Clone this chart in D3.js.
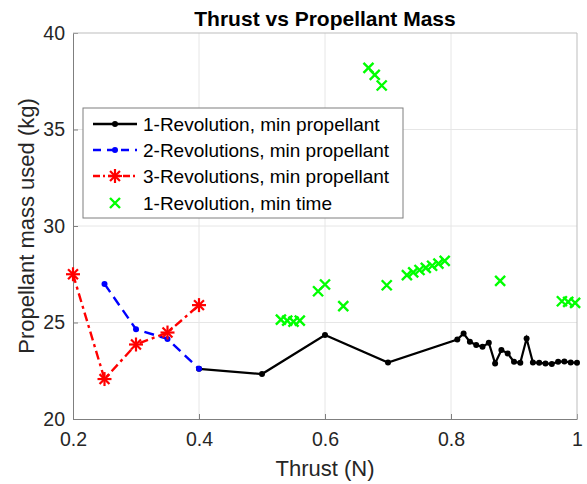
<!DOCTYPE html>
<html><head><meta charset="utf-8">
<script src="https://cdn.jsdelivr.net/npm/d3@7"></script>
<style>body{margin:0;background:#fff}</style>
</head><body><svg id="c" width="587" height="484"></svg>
<script>
const xTicks=[0.2,0.4,0.6,0.8,1.0];
const yTicks=[20,25,30,35,40];
const rev1X=[0.4,0.5,0.6,0.7,0.81,0.82,0.83,0.84,0.85,0.86,0.87,0.88,0.89,0.90,0.91,0.92,0.93,0.94,0.95,0.96,0.97,0.98,0.99,1.00];
const rev1Y=[22.6,22.33,24.35,22.93,24.12,24.43,24.0,23.83,23.74,23.95,22.88,23.57,23.4,22.96,22.91,24.17,22.93,22.91,22.88,22.85,22.97,22.98,22.93,22.91];
const rev2X=[0.25,0.3,0.35,0.4];
const rev2Y=[27.0,24.65,24.15,22.6];
const rev3X=[0.2,0.25,0.3,0.35,0.4];
const rev3Y=[27.5,22.07,23.86,24.48,25.9];
const timeX=[0.53,0.54,0.55,0.56,0.589,0.6,0.629,0.669,0.679,0.69,0.698,0.73,0.74,0.75,0.76,0.77,0.78,0.79,0.878,0.976,0.986,0.997];
const timeY=[25.15,25.1,25.05,25.1,26.62,26.97,25.85,38.19,37.83,37.28,26.93,27.45,27.6,27.72,27.83,27.94,28.05,28.19,27.16,26.1,26.07,26.02];
const legendLabels=["1-Revolution, min propellant","2-Revolutions, min propellant","3-Revolutions, min propellant","1-Revolution, min time"];

const svg=d3.select("#c");
const L=73,R=577,T=33,B=419;
const x=d3.scaleLinear().domain([0.2,1.0]).range([L,R]);
const y=d3.scaleLinear().domain([20,40]).range([B,T]);
const txt="#262626";
const font="Liberation Sans, Arial, sans-serif";

// grid
svg.append("g").selectAll("line").data(xTicks.slice(1,-1)).join("line")
 .attr("x1",d=>x(d)).attr("x2",d=>x(d)).attr("y1",T).attr("y2",B).attr("stroke","#e6e6e6").attr("stroke-width",1);
svg.append("g").selectAll("line").data(yTicks.slice(1,-1)).join("line")
 .attr("y1",d=>y(d)).attr("y2",d=>y(d)).attr("x1",L).attr("x2",R).attr("stroke","#e6e6e6").attr("stroke-width",1);

// axes
const xa=svg.append("g").attr("transform",`translate(0,${B})`).call(d3.axisBottom(x).tickValues(xTicks).tickFormat(d=>d===1?"1":d3.format(".1f")(d)).tickSizeInner(-5).tickSizeOuter(0).tickPadding(13));
const ya=svg.append("g").attr("transform",`translate(${L},0)`).call(d3.axisLeft(y).tickValues(yTicks).tickSizeInner(-5).tickSizeOuter(0).tickPadding(8));
[xa,ya].forEach(a=>{a.select(".domain").attr("stroke","#7f7f7f");a.selectAll(".tick line").attr("stroke","#7f7f7f");
 a.selectAll("text").attr("fill",txt).attr("font-size","19.5px").attr("font-family",font);});
// top/right box
svg.append("line").attr("x1",L).attr("x2",R).attr("y1",T).attr("y2",T).attr("stroke","#bdbdbd");
svg.append("line").attr("x1",R).attr("x2",R).attr("y1",T).attr("y2",B).attr("stroke","#bdbdbd");

// labels
svg.append("text").attr("x",(L+R)/2).attr("y",26).attr("text-anchor","middle").attr("font-family",font).attr("font-weight","bold").attr("font-size","21px").attr("fill","#000").text("Thrust vs Propellant Mass");
svg.append("text").attr("x",(L+R)/2).attr("y",476).attr("text-anchor","middle").attr("font-family",font).attr("font-size","22px").attr("fill",txt).text("Thrust (N)");
svg.append("text").attr("transform",`translate(34,${(T+B)/2}) rotate(-90)`).attr("text-anchor","middle").attr("font-family",font).attr("font-size","22px").attr("fill",txt).text("Propellant mass used (kg)");

const line=d3.line().x(d=>x(d[0])).y(d=>y(d[1]));
const z=(a,b)=>a.map((v,i)=>[v,b[i]]);
const d1=z(rev1X,rev1Y),d2=z(rev2X,rev2Y),d3d=z(rev3X,rev3Y),d4=z(timeX,timeY);

function star(g,cx,cy,r,col){
  for(let k=0;k<4;k++){const a=k*Math.PI/4;
    g.append("line").attr("x1",cx-r*Math.cos(a)).attr("y1",cy-r*Math.sin(a)).attr("x2",cx+r*Math.cos(a)).attr("y2",cy+r*Math.sin(a)).attr("stroke",col).attr("stroke-width",2.2);}
}
function cross(g,cx,cy,r,col){
  g.append("path").attr("d",`M${cx-r},${cy-r}L${cx+r},${cy+r}M${cx-r},${cy+r}L${cx+r},${cy-r}`).attr("stroke",col).attr("stroke-width",2.4).attr("fill","none");
}

const plot=svg.append("g");
const gG=plot.append("g");
d4.forEach(d=>cross(gG,x(d[0]),y(d[1]),5,"#00ff00"));
plot.append("path").datum(d1).attr("d",line).attr("fill","none").attr("stroke","#000").attr("stroke-width",2.2);
plot.append("g").selectAll("circle").data(d1).join("circle").attr("cx",d=>x(d[0])).attr("cy",d=>y(d[1])).attr("r",3).attr("fill","#000");
plot.append("path").datum(d2).attr("d",line).attr("fill","none").attr("stroke","#0000ff").attr("stroke-width",2.4).attr("stroke-dasharray","10,6");
plot.append("g").selectAll("circle").data(d2).join("circle").attr("cx",d=>x(d[0])).attr("cy",d=>y(d[1])).attr("r",3).attr("fill","#0000ff");
plot.append("path").datum(d3d).attr("d",line).attr("fill","none").attr("stroke","#ff0000").attr("stroke-width",2.4).attr("stroke-dasharray","9,4,3,4");
const gR=plot.append("g");
d3d.forEach(d=>star(gR,x(d[0]),y(d[1]),7,"#ff0000"));

// legend
const lg=svg.append("g");
lg.append("rect").attr("x",83).attr("y",108).attr("width",320).attr("height",110).attr("fill","#fff").attr("stroke","#7f7f7f").attr("stroke-width",1);
const rowsY=[124,150,176,203];
const ls=[{c:"#000",da:null},{c:"#0000ff",da:"8,6"},{c:"#ff0000",da:"7,3,2,3"}];
legendLabels.forEach((t,i)=>{
  const yy=rowsY[i];
  if(i<3){
    lg.append("line").attr("x1",93).attr("x2",137).attr("y1",yy).attr("y2",yy).attr("stroke",ls[i].c).attr("stroke-width",2.4).attr("stroke-dasharray",ls[i].da);
    if(i<2) lg.append("circle").attr("cx",115).attr("cy",yy).attr("r",3).attr("fill",ls[i].c);
    else star(lg,115,yy,7,"#ff0000");
  } else cross(lg,115,yy,5,"#00ff00");
  lg.append("text").attr("x",143).attr("y",yy+7).attr("font-family",font).attr("font-size","19px").attr("fill","#000").text(t);
});
</script></body></html>
